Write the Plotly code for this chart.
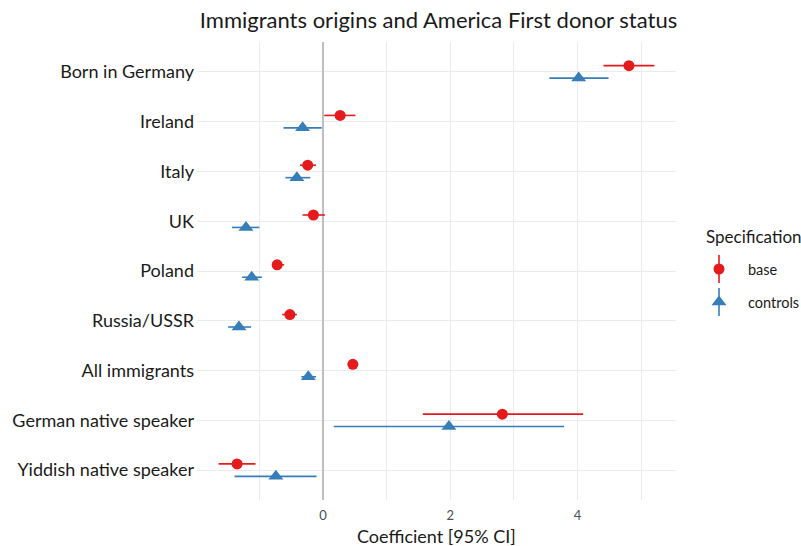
import plotly.graph_objects as go

# Coefficient estimates with 95% confidence intervals
categories = ["Born in Germany", "Ireland", "Italy", "UK", "Poland", "Russia/USSR",
              "All immigrants", "German native speaker", "Yiddish native speaker"]

base_est = [4.81, 0.27, -0.24, -0.15, -0.72, -0.52, 0.47, 2.82, -1.35]
base_lo = [4.41, 0.02, -0.36, -0.32, -0.80, -0.64, 0.43, 1.57, -1.64]
base_hi = [5.21, 0.51, -0.11, 0.03, -0.61, -0.41, 0.52, 4.09, -1.06]

ctrl_est = [4.02, -0.32, -0.41, -1.21, -1.12, -1.32, -0.23, 1.98, -0.74]
ctrl_lo = [3.56, -0.62, -0.59, -1.43, -1.27, -1.49, -0.34, 0.17, -1.39]
ctrl_hi = [4.49, -0.02, -0.20, -1.00, -0.96, -1.13, -0.11, 3.79, -0.10]

x_ticks = [0, 2, 4]
specs = ["base", "controls"]

RED = "#E41A1C"
BLUE = "#377EB8"
FONT = "Lato"
DODGE = 0.125

n = len(categories)
ypos = [n - i for i in range(n)]

fig = go.Figure()


def add_series(est, lo, hi, offset, color, symbol, size, name):
    fig.add_trace(go.Scatter(
        x=est,
        y=[y + offset for y in ypos],
        mode="markers",
        name=name,
        showlegend=False,
        marker=dict(color=color, symbol=symbol, size=size, line=dict(width=0)),
        error_x=dict(type="data", symmetric=False,
                     array=[h - e for h, e in zip(hi, est)],
                     arrayminus=[e - l for e, l in zip(est, lo)],
                     color=color, thickness=1.6, width=0),
        xaxis="x", yaxis="y",
    ))


add_series(base_est, base_lo, base_hi, DODGE, RED, "circle", 11, specs[0])
add_series(ctrl_est, ctrl_lo, ctrl_hi, -DODGE, BLUE, "triangle-up", 13, specs[1])

# Hand-built legend: point with a vertical range line, drawn on a spare axis pair
leg_y = [269, 302]
leg_colors = [RED, BLUE]
leg_symbols = ["circle", "triangle-up"]
leg_sizes = [11, 13]
for yy, c, s, sz in zip(leg_y, leg_colors, leg_symbols, leg_sizes):
    fig.add_trace(go.Scatter(
        x=[719], y=[yy], mode="markers", showlegend=False, hoverinfo="skip",
        marker=dict(color=c, symbol=s, size=sz, line=dict(width=0)),
        error_y=dict(type="constant", value=14, color=c, thickness=1.6, width=0),
        xaxis="x2", yaxis="y2",
    ))

L, R_, T, B = 197, 0, 42, 46
W, H = 801, 546
pw = W - L - R_
ph = H - T - B
main_right = (676 - L) / pw
leg_left = 0.8

annotations = [
    dict(text="Specification", x=704, y=236, xref="x2", yref="y2", showarrow=False,
         xanchor="left", yanchor="middle", font=dict(family=FONT, size=17, color="#1A1A1A")),
]
for yy, lab in zip(leg_y, specs):
    annotations.append(dict(text=lab, x=746, y=yy, xref="x2", yref="y2", showarrow=False,
                            xanchor="left", yanchor="middle",
                            font=dict(family=FONT, size=14.5, color="#1A1A1A")))
annotations.append(dict(text="Coefficient [95% CI]", x=(436.5 - L) / pw, y=(H - B - 536) / ph,
                        xref="paper", yref="paper", showarrow=False,
                        xanchor="center", yanchor="middle",
                        font=dict(family=FONT, size=18, color="#1A1A1A")))

fig.update_layout(
    width=W, height=H,
    margin=dict(l=L, r=R_, t=T, b=B, pad=0),
    paper_bgcolor="white", plot_bgcolor="white",
    title=dict(text="Immigrants origins and America First donor status",
               x=438.5 / W, xref="container", xanchor="center",
               y=1 - 20 / H, yref="container", yanchor="middle",
               font=dict(family=FONT, size=22, color="#1A1A1A")),
    xaxis=dict(domain=[0, main_right], range=[-1.98, 5.55],
               tickvals=x_ticks, ticktext=[str(t) for t in x_ticks],
               showgrid=True, gridcolor="#EBEBEB", gridwidth=1.2,
               minor=dict(dtick=1, tick0=1, showgrid=True, gridcolor="#EBEBEB", gridwidth=1.2),
               zeroline=True, zerolinecolor="#BEBEBE", zerolinewidth=2,
               ticks="", showline=False, ticklabelstandoff=6,
               tickfont=dict(family=FONT, size=13, color="#4D4D4D")),
    yaxis=dict(domain=[0, 1], range=[0.4, n + 0.6],
               tickvals=ypos, ticktext=categories,
               showgrid=True, gridcolor="#EBEBEB", gridwidth=1.2,
               zeroline=False, ticks="", showline=False,
               ticklabelstandoff=2,
               tickfont=dict(family=FONT, size=18, color="#1A1A1A")),
    xaxis2=dict(domain=[leg_left, 1], range=[L + leg_left * pw, W],
                visible=False, fixedrange=True),
    yaxis2=dict(domain=[0, 1], range=[H - B, T], anchor="x2",
                visible=False, fixedrange=True),
    annotations=annotations,
    font=dict(family=FONT),
)

fig.write_html("out.html")
